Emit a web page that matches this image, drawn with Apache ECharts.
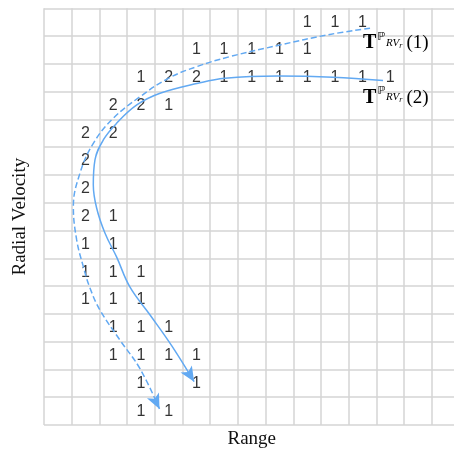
<!DOCTYPE html>
<html>
<head>
<meta charset="utf-8">
<script src="https://cdn.jsdelivr.net/npm/echarts@6/dist/echarts.min.js"></script>
<style>html,body{margin:0;padding:0;background:#fff}#c{width:454px;height:449px}</style>
</head>
<body>
<div id="c"></div>
<script>
// Cell grid: 15 range bins x 15 radial-velocity bins
const rangeBinCount = 15;
const velocityBinCount = 15;
// counts: [rangeBin, velocityBin (0 = bottom), count]
const counts = [
  [9,14,1],[10,14,1],[11,14,1],
  [5,13,1],[6,13,1],[7,13,1],[8,13,1],[9,13,1],
  [3,12,1],[4,12,2],[5,12,2],[6,12,1],[7,12,1],[8,12,1],[9,12,1],[10,12,1],[11,12,1],[12,12,1],
  [2,11,2],[3,11,2],[4,11,1],
  [1,10,2],[2,10,2],
  [1,9,2],
  [1,8,2],
  [1,7,2],[2,7,1],
  [1,6,1],[2,6,1],
  [1,5,1],[2,5,1],[3,5,1],
  [1,4,1],[2,4,1],[3,4,1],
  [2,3,1],[3,3,1],[4,3,1],
  [2,2,1],[3,2,1],[4,2,1],[5,2,1],
  [3,1,1],[5,1,1],
  [3,0,1],[4,0,1]
];
// Trajectory 1 (dashed) in bin units; last point = arrow tip
const track1 = [[11.77,14.28],[10.32,14.06],[8.52,13.68],[6.71,13.26],[5.51,12.90],[4.49,12.48],[3.47,11.82],[2.50,11.04],[1.78,10.14],[1.30,9.07],[1.06,7.86],[1.18,6.66],[1.42,5.70],[1.66,4.93],[2.02,4.14],[2.74,3.06],[3.47,2.02],[4.17,0.58]];
// Trajectory 2 (solid); last point = arrow tip
const track2 = [[12.24,12.40],[10.43,12.52],[8.45,12.56],[6.53,12.48],[5.56,12.30],[4.19,11.94],[3.35,11.52],[2.62,10.86],[2.14,10.26],[1.84,9.54],[1.78,8.64],[1.90,7.81],[2.20,6.91],[2.62,6.05],[3.10,4.97],[3.83,3.96],[4.62,2.84],[5.42,1.56]];
const trackNames = ['1','2'];

const BLUE = '#62a9f2';
const chart = echarts.init(document.getElementById('c'), null, {renderer:'canvas'});

function richLabel(n, offset){
  return {
    show: true, position: 'inside', align: 'left', verticalAlign: 'middle', offset: offset,
    formatter: '{T|T}{P|\u2119}{s|RV}{r|r}{n|(' + n + ')}',
    rich: {
      T: {fontFamily:'Liberation Serif', fontWeight:'bold', fontSize:20, lineHeight:24, verticalAlign:'top', padding:[2,0,0,0], color:'#000'},
      P: {fontFamily:'DejaVu Sans', fontSize:11, lineHeight:24, verticalAlign:'top', padding:[0,0,0,1], color:'#000'},
      s: {fontFamily:'Liberation Serif', fontStyle:'italic', fontSize:11, lineHeight:24, verticalAlign:'top', padding:[6.5,0,0,1], color:'#000'},
      r: {fontFamily:'Liberation Serif', fontStyle:'italic', fontSize:8, lineHeight:24, verticalAlign:'top', padding:[10.5,4,0,0], color:'#000'},
      n: {fontFamily:'Liberation Serif', fontSize:19, lineHeight:24, verticalAlign:'top', padding:[2.5,0,0,0], color:'#000'}
    }
  };
}

function trackData(track, n, offset, rot){
  return track.map((p, i) => {
    if (i === 0) return {value:p, symbol:'circle', symbolSize:1, itemStyle:{color:'rgba(0,0,0,0)'}, label: richLabel(n, offset)};
    if (i === track.length - 1) return {value:p, symbol:'arrow', symbolSize:[10,15], symbolRotate: rot || 0, itemStyle:{color:BLUE}};
    return {value:p};
  });
}

function buildOption(rot1, rot2){
  const axisCommon = {
    type:'value', min:0, interval:1,
    axisLine:{show:false}, axisTick:{show:false}, axisLabel:{show:false},
    splitLine:{show:true, lineStyle:{color:'#d4d4d4', width:1.5}},
    nameLocation:'middle',
    nameTextStyle:{fontFamily:'Liberation Serif', fontSize:19, color:'#111'}
  };
  return {
    animation:false,
    grid:{left:44, top:8.3, right:-5.5, bottom:24, containLabel:false, outerBoundsMode:'none'},
    xAxis: Object.assign({}, axisCommon, {max:rangeBinCount, name:'Range', nameGap:5}),
    yAxis: Object.assign({}, axisCommon, {max:velocityBinCount, name:'Radial Velocity', nameGap:14}),
    series:[
      {
        type:'scatter', silent:true,
        data: counts.map(c => [c[0]+0.5, c[1]+0.5, c[2]]),
        symbolSize:1, itemStyle:{color:'rgba(0,0,0,0)'},
        label:{show:true, position:'inside', formatter: p => String(p.value[2]),
               fontFamily:'Liberation Sans', fontSize:16, color:'#000'}
      },
      {
        type:'line', name:trackNames[0], smooth:0.4, symbol:'none', showSymbol:true,
        lineStyle:{color:BLUE, width:1.5, type:[6,3]}, itemStyle:{color:BLUE},
        data: trackData(track1, trackNames[0], [-7,15], rot1), z:5
      },
      {
        type:'line', name:trackNames[1], smooth:0.4, symbol:'none', showSymbol:true,
        lineStyle:{color:BLUE, width:1.5}, itemStyle:{color:BLUE},
        data: trackData(track2, trackNames[1], [-20,17], rot2), z:5
      }
    ]
  };
}

chart.setOption(buildOption(0,0));
function rotFor(track){
  const a = chart.convertToPixel({gridIndex:0}, track[track.length-2]);
  const b = chart.convertToPixel({gridIndex:0}, track[track.length-1]);
  const dx = b[0]-a[0], dy = b[1]-a[1];
  return Math.atan2(-dx, -dy) * 180 / Math.PI;
}
chart.setOption(buildOption(rotFor(track1), rotFor(track2)));
</script>
</body>
</html>
